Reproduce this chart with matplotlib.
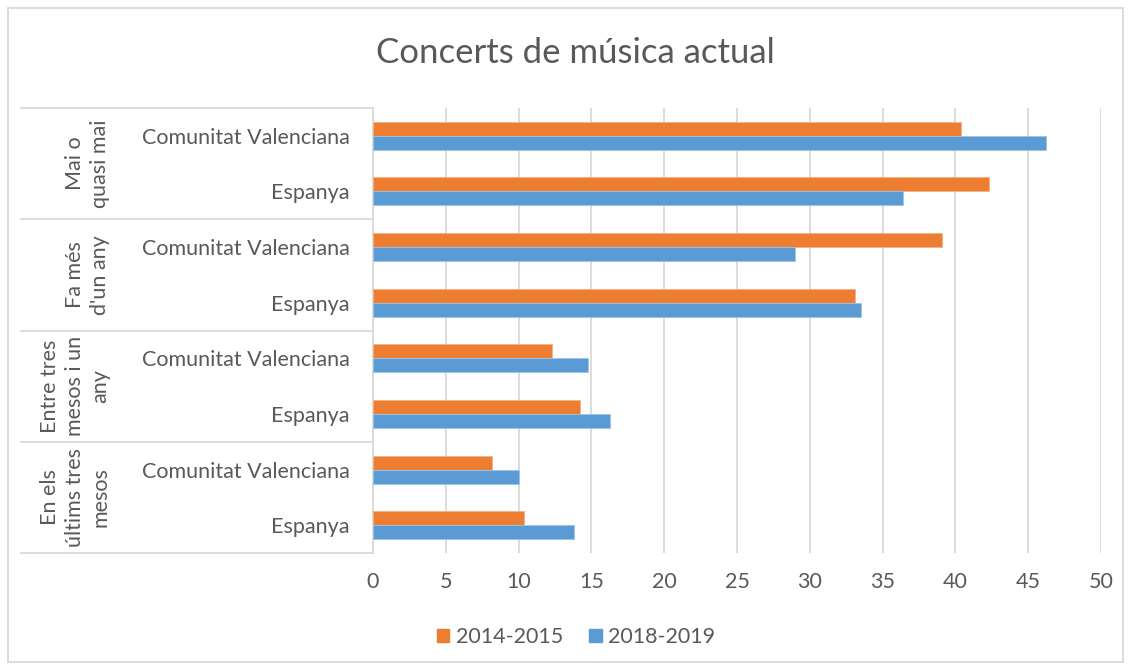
import matplotlib.pyplot as plt
import matplotlib.transforms as mtransforms
from matplotlib.patches import Rectangle, Patch
import numpy as np

plt.rcParams['font.family'] = ['Lato', 'DejaVu Sans']

# data, top to bottom
groups = ["Mai o\nquasi mai", "Fa més\nd'un any", "Entre tres\nmesos i un\nany", "En els\núltims tres\nmesos"]
regions = ["Comunitat Valenciana", "Espanya"]
v2014 = [40.4, 42.3, 39.1, 33.1, 12.3, 14.2, 8.2, 10.4]
v2018 = [46.2, 36.4, 29.0, 33.5, 14.8, 16.3, 10.0, 13.8]
labels = regions * len(groups)
xticks = [0, 5, 10, 15, 20, 25, 30, 35, 40, 45, 50]

gray = '#595959'
orange = '#ED7D31'
blue = '#5B9BD5'
fs = 15.5

W, H = 1131, 670
fig = plt.figure(figsize=(W / 100, H / 100), dpi=100)
ax = fig.add_axes([373 / W, 1 - 553 / H, (1101 - 373) / W, (553 - 108) / H])

y = np.arange(len(labels))
h = 0.252
ax.barh(y - h / 2, v2014, height=h, color=orange, edgecolor='#F4B183', linewidth=0.6, label='2014-2015', zorder=3)
ax.barh(y + h / 2, v2018, height=h, color=blue, edgecolor='#9DC3E6', linewidth=0.6, label='2018-2019', zorder=3)

ax.set_ylim(len(labels) - 0.5, -0.5)
ax.set_xlim(0, 50)
ax.set_xticks(xticks)
ax.set_yticks(y)
ax.set_yticklabels(labels)
ax.tick_params(axis='y', length=0, pad=17, labelsize=fs, labelcolor=gray)
ax.tick_params(axis='x', length=0, pad=14, labelsize=fs, labelcolor=gray)
ax.grid(axis='x', color='#d9d9d9', linewidth=1.3, zorder=0)
for s in ['top', 'right', 'bottom']:
    ax.spines[s].set_visible(False)
ax.spines['left'].set_color('#d9d9d9')
ax.spines['left'].set_linewidth(1.3)

# group boxes
tr = mtransforms.blended_transform_factory(fig.transFigure, ax.transData)
for b in [-0.5, 1.5, 3.5, 5.5, 7.5]:
    ax.plot([21 / W, 373 / W], [b, b], transform=tr, color='#d9d9d9', linewidth=1.3, clip_on=False)
for i, g in enumerate(groups):
    ax.text(110 / W, 2 * i + 0.5, g, transform=tr, rotation=90, ha='right', va='center',
            multialignment='center', fontsize=fs, color=gray, linespacing=1.3)

fig.text(575 / W, 1 - 53 / H, 'Concerts de música actual', ha='center', va='center',
         fontsize=25, color=gray)

handles = [Patch(color=orange, label='2014-2015'), Patch(color=blue, label='2018-2019')]
fig.legend(handles=handles, loc='center', bbox_to_anchor=(576 / W, 1 - 637 / H), ncol=2,
           frameon=False, handlelength=0.6, handleheight=0.6, handletextpad=0.3,
           columnspacing=1.2, fontsize=fs, labelcolor=gray)

fig.patches.append(Rectangle((8 / W, 8 / H), (1123 - 8) / W, (662 - 8) / H, transform=fig.transFigure,
                             fill=False, edgecolor='#d9d9d9', linewidth=1.3))

fig.savefig('out.png', dpi=100)
